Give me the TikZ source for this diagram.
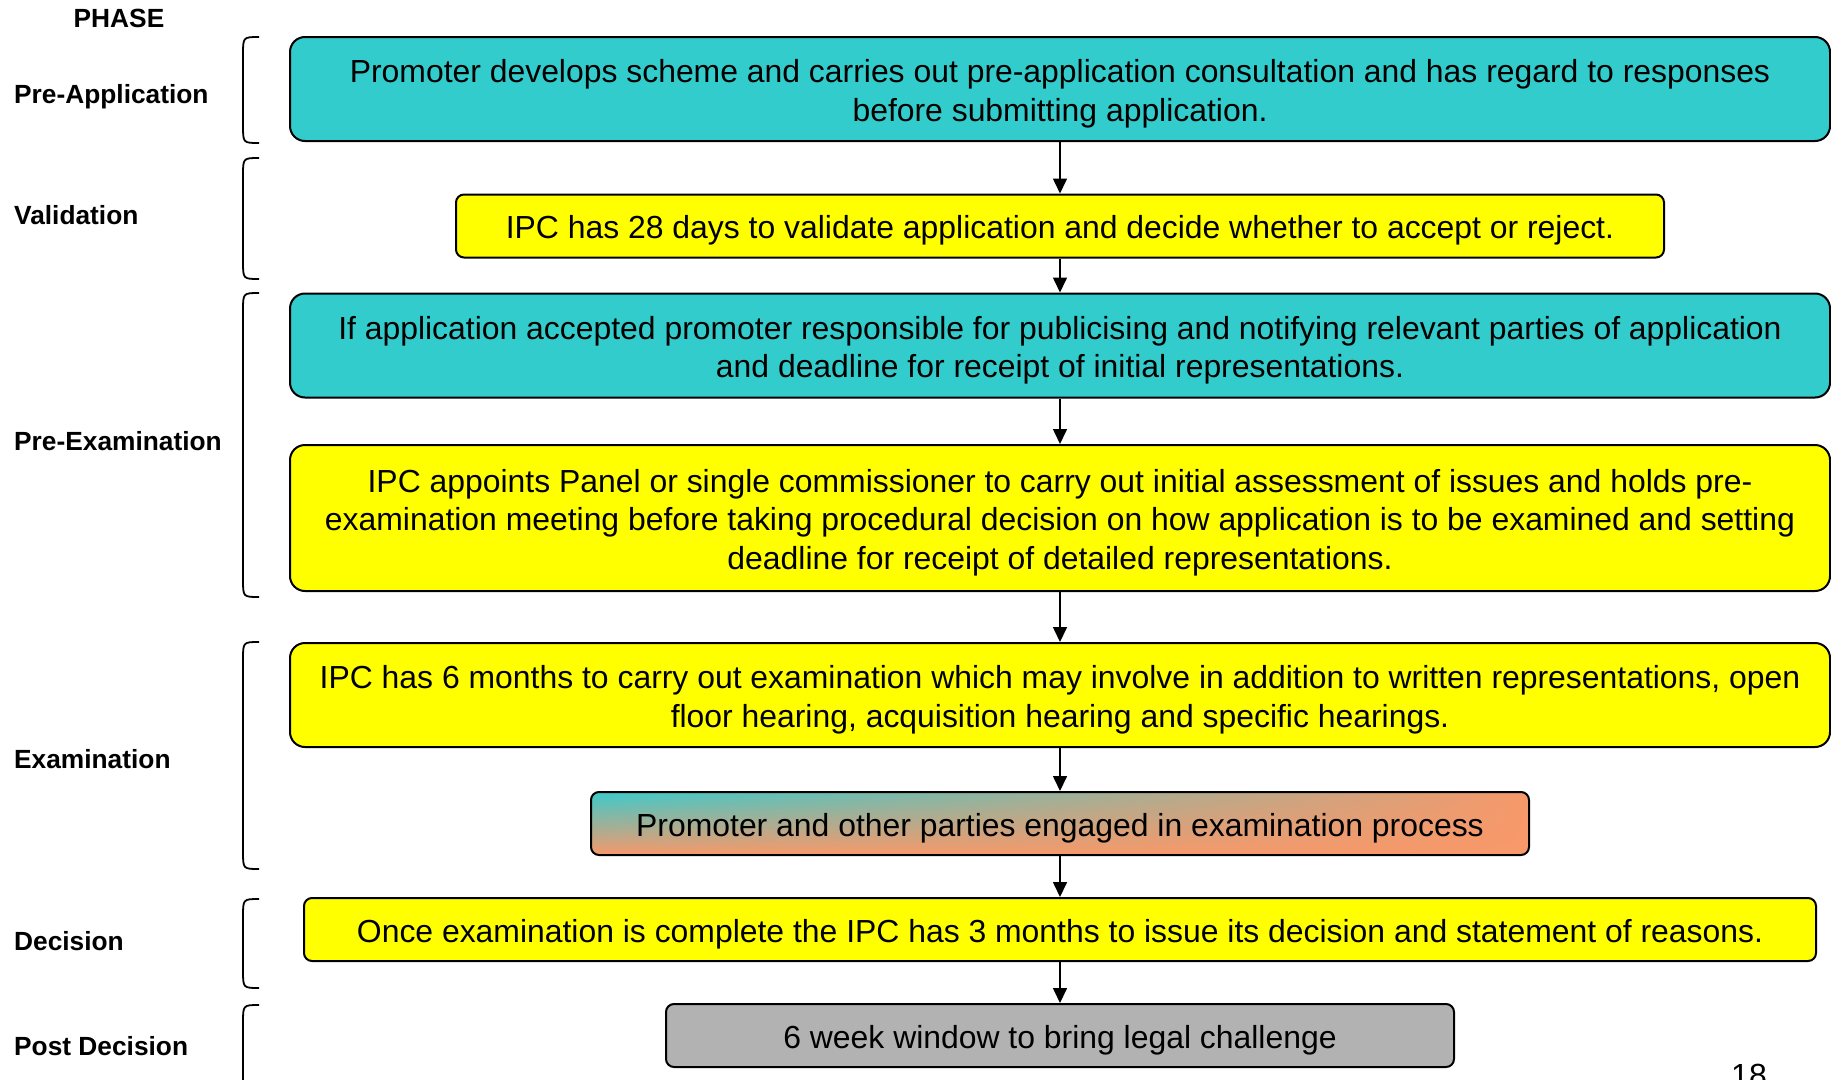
\documentclass[tikz,border=0pt]{standalone}
\usepackage{fontspec}
\setmainfont{Liberation Sans}
\usetikzlibrary{positioning,arrows.meta,fadings}

\definecolor{stagecyan}{RGB}{51,204,204}
\definecolor{stageyellow}{RGB}{255,255,0}
\definecolor{stagegrey}{RGB}{178,178,178}
\definecolor{stagesalmon}{RGB}{248,153,106}
\definecolor{stageteal}{RGB}{60,203,204}
\tikzfading[name=fade right, left color=transparent!0, right color=transparent!100]
\newcommand{\toprule}{\rule{0pt}{32.5pt}}

\begin{document}
\begin{tikzpicture}[x=1pt,y=-1pt,
    stagebox/.style={rectangle,draw=black,line width=2pt,rounded corners=15pt,align=center,inner sep=0pt,
      font=\fontsize{31.9}{38.5}\selectfont},
    widebox/.style={stagebox,minimum width=1540pt},
    smallbox/.style={stagebox,rounded corners=8pt,minimum height=63pt},
    phase/.style={anchor=base west,inner sep=0pt,font=\fontsize{26.3}{31}\selectfont\bfseries},
    flow/.style={line width=1.6pt,-{Triangle[length=15pt,width=14pt]}},
    bracket/.style={line width=1.8pt}]
    \useasboundingbox (0,0) rectangle (1831,1079);

    % phase names
      \node[phase,anchor=base] (phasehead) at (119,27) {PHASE};
      \node[phase] (lpreapp) at (14,103) {Pre-Application};
      \node[phase] (lvalid) at (14,224) {Validation};
      \node[phase] (lpreexam) at (14,450) {Pre-Examination};
      \node[phase] (lexam) at (14,768) {Examination};
      \node[phase] (ldecide) at (14,950) {Decision};
      \node[phase] (lpost) at (14,1055) {Post Decision};

      % brackets
      \draw[bracket] (259,37) .. controls (243,37) .. (243,55) -- (243,125) .. controls (243,143) .. (259,143);
      \draw[bracket] (259,158) .. controls (243,158) .. (243,176) -- (243,261) .. controls (243,279) .. (259,279);
      \draw[bracket] (259,293) .. controls (243,293) .. (243,311) -- (243,579) .. controls (243,597) .. (259,597);
      \draw[bracket] (259,642) .. controls (243,642) .. (243,660) -- (243,851) .. controls (243,869) .. (259,869);
      \draw[bracket] (259,899) .. controls (243,899) .. (243,917) -- (243,970) .. controls (243,988) .. (259,988);
      \draw[bracket] (259,1005) .. controls (243,1005) .. (243,1023) -- (243,1092) .. controls (243,1110) .. (259,1110);

    % stages
      \node[widebox,fill=stagecyan,minimum height=104pt] (preapp) at (1060,89)
        {\toprule Promoter develops scheme and carries out pre-application consultation and has regard to responses\\before submitting application.};
      \node[smallbox,fill=stageyellow,minimum width=1208pt] (validate) at (1060,226)
        {\toprule IPC has 28 days to validate application and decide whether to accept or reject.};
      \node[widebox,fill=stagecyan,minimum height=104pt] (notify) at (1060,345.5)
        {\toprule If application accepted promoter responsible for publicising and notifying relevant parties of application\\and deadline for receipt of initial representations.};
      \node[widebox,fill=stageyellow,minimum height=146pt] (assess) at (1060,518)
        {\toprule IPC appoints Panel or single commissioner to carry out initial assessment of issues and holds pre-\\examination meeting before taking procedural decision on how application is to be examined and setting\\deadline for receipt of detailed representations.};
      \node[widebox,fill=stageyellow,minimum height=104pt] (examine) at (1060,695)
        {\toprule IPC has 6 months to carry out examination which may involve in addition to written representations, open\\floor hearing, acquisition hearing and specific hearings.};
      \node[smallbox,fill=stagesalmon,minimum width=938pt,
        path picture={\shade[top color=stageteal,bottom color=stagesalmon,path fading=fade right]
          (path picture bounding box.north west) rectangle (path picture bounding box.south east);}] (engage) at (1060,823.5)
        {\toprule Promoter and other parties engaged in examination process};
      \node[smallbox,fill=stageyellow,minimum width=1512pt] (decide) at (1060,929.5)
        {\toprule Once examination is complete the IPC has 3 months to issue its decision and statement of reasons.};
      \node[smallbox,fill=stagegrey,minimum width=788pt] (legal) at (1060,1035.5)
        {\toprule 6 week window to bring legal challenge};

      % page number
      \node[anchor=base west,inner sep=0pt,font=\fontsize{32}{38}\selectfont] (pagenum) at (1731,1086) {18};

    % flow
      \draw[flow] (preapp) -- (validate);
      \draw[flow] (validate) -- (notify);
      \draw[flow] (notify) -- (assess);
      \draw[flow] (assess) -- (examine);
      \draw[flow] (examine) -- (engage);
      \draw[flow] (engage) -- (decide);
      \draw[flow] (decide) -- (legal);

\end{tikzpicture}
\end{document}
